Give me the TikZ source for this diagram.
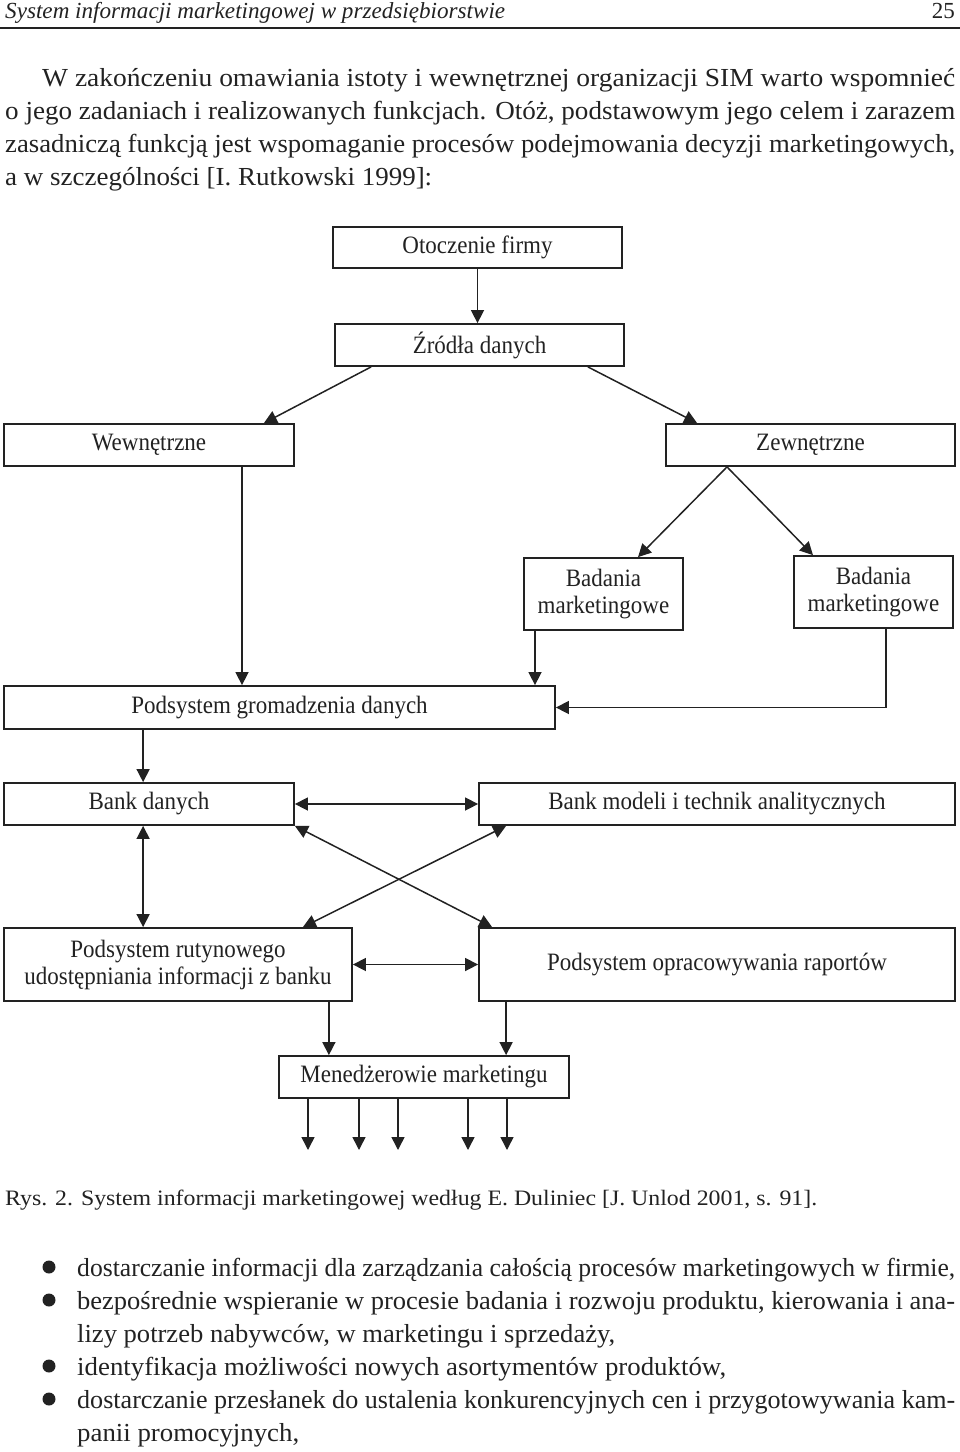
\documentclass[tikz,border=0pt]{standalone}
\usepackage{fontspec}
\usepackage{graphicx}
\setmainfont{Liberation Serif}
\newfontfamily\boxfont[FakeStretch=0.92]{Liberation Serif}
\usetikzlibrary{arrows.meta,calc}
\definecolor{ink}{HTML}{222222}
\newcommand{\fitto}[2]{\resizebox{#1}{\height}{#2}}
\tikzset{
  box/.style={draw=ink, line width=1.8pt, inner sep=0pt, align=center, text=ink,
    font=\boxfont\fontsize{25}{27}\selectfont},
  arr/.style={draw=ink, line width=1.5pt, -{Triangle[length=13pt,width=13pt]}},
  darr/.style={draw=ink, line width=1.5pt, {Triangle[length=13pt,width=13pt]}-{Triangle[length=13pt,width=13pt]}},
  txt/.style={anchor=base west, inner sep=0pt, text=ink},
  bodyfont/.style={font=\fontsize{26}{33}\selectfont},
  dot/.style={circle, fill=ink, inner sep=0pt, minimum size=13pt}
}
\begin{document}
\begin{tikzpicture}[x=1pt,y=-1pt]
\useasboundingbox (0,0) rectangle (960,1452);
% header
\node[txt] (hdr) at (5,18) {\fitto{500pt}{\fontsize{23}{26}\selectfont\itshape System informacji marketingowej w przedsiębiorstwie}};
\node[anchor=base east, inner sep=0pt, text=ink, font=\fontsize{23}{26}\selectfont] (pg) at (955,18) {25};
\draw[ink, line width=2pt] (0,27.5) -- (960,27.5);
% paragraph
\node[txt,bodyfont] (p1) at (42,86) {\fitto{913pt}{W zakończeniu omawiania istoty i wewnętrznej organizacji SIM warto wspomnieć}};
\node[txt,bodyfont] (p2) at (5,119) {\fitto{950pt}{o jego zadaniach i realizowanych funkcjach. Otóż, podstawowym jego celem i zarazem}};
\node[txt,bodyfont] (p3) at (5,152) {\fitto{950pt}{zasadniczą funkcją jest wspomaganie procesów podejmowania decyzji marketingowych,}};
\node[txt,bodyfont] (p4) at (5,185) {\fitto{427pt}{a w szczególności [I. Rutkowski 1999]:}};
% boxes
\node[box, minimum width=289pt, minimum height=41pt] (ot) at (477.5,247.5) {Otoczenie firmy};
\node[box, minimum width=289pt, minimum height=42pt] (zr) at (479.5,345) {Źródła danych};
\node[box, minimum width=290pt, minimum height=42pt] (wew) at (149,445) {Wewnętrzne};
\node[box, minimum width=289pt, minimum height=42pt] (zew) at (810.5,445) {Zewnętrzne};
\node[box, minimum width=159pt, minimum height=72pt] (bad1) at (603.5,594) {Badania\\marketingowe};
\node[box, minimum width=159pt, minimum height=72pt] (bad2) at (873.5,592) {Badania\\marketingowe};
\node[box, minimum width=551pt, minimum height=43pt] (grom) at (279.5,707.5) {Podsystem gromadzenia danych};
\node[box, minimum width=290pt, minimum height=42pt] (bank) at (149,804) {Bank danych};
\node[box, minimum width=476pt, minimum height=42pt] (modeli) at (717,804) {Bank modeli i technik analitycznych};
\node[box, minimum width=348pt, minimum height=73pt] (rut) at (178,964.5) {Podsystem rutynowego\\udostępniania informacji z banku};
\node[box, minimum width=476pt, minimum height=73pt] (rap) at (717,964.5) {Podsystem opracowywania raportów};
\node[box, minimum width=290pt, minimum height=42pt] (men) at (424,1077) {Menedżerowie marketingu};
% connectors
\draw[arr] (ot.south) -- (ot.south |- zr.north);
\coordinate (zr1) at ([xshift=37pt]zr.south west);
\coordinate (zr2) at ([xshift=-37pt]zr.south east);
\coordinate (wew1) at ([xshift=-31pt]wew.north east);
\coordinate (zew1) at ([xshift=32pt]zew.north west);
\draw[arr] (zr1) -- (wew1);
\draw[arr] (zr2) -- (zew1);
\coordinate (zew2) at ([xshift=-83.5pt]zew.south);
\coordinate (bad1n) at ([xshift=34.5pt]bad1.north);
\coordinate (bad2n) at ([xshift=-60.5pt]bad2.north);
\draw[arr] (zew2) -- (bad1n);
\draw[arr] (zew2) -- (bad2n);
\coordinate (w1) at ([xshift=93pt]wew.south);
\draw[arr] (w1) -- (w1 |- grom.north);
\coordinate (b1) at ([xshift=-68.5pt]bad1.south);
\draw[arr] (b1) -- (b1 |- grom.north);
\coordinate (b2) at ([xshift=12.5pt]bad2.south);
\draw[arr] (b2) |- (grom.east);
\coordinate (g1) at ([xshift=140pt]grom.south west);
\draw[arr] (g1) -- (g1 |- bank.north);
\draw[darr] (bank.east) -- (modeli.west);
\coordinate (k1) at ([xshift=140pt]bank.south west);
\draw[darr] (k1) -- (k1 |- rut.north);
\coordinate (rapnw) at ([xshift=14pt]rap.north west);
\draw[darr] (bank.south east) -- (rapnw);
\coordinate (modsw) at ([xshift=28pt]modeli.south west);
\coordinate (rutne) at ([xshift=-50pt]rut.north east);
\draw[darr] (modsw) -- (rutne);
\draw[darr] (rut.east) -- (rap.west);
\coordinate (r1) at ([xshift=-24pt]rut.south east);
\draw[arr] (r1) -- (r1 |- men.north);
\coordinate (r2) at ([xshift=28pt]rap.south west);
\draw[arr] (r2) -- (r2 |- men.north);
\foreach \i/\xx in {1/308,2/359,3/398,4/468,5/507} {
  \coordinate (o\i) at (\xx,1150);
  \draw[arr] (o\i |- men.south) -- (o\i);
}
% caption
\node[txt] (cap) at (5,1205) {\fitto{812pt}{\fontsize{22}{26}\selectfont Rys. 2. System informacji marketingowej według E. Duliniec [J. Unlod 2001, s. 91].}};
% bullets
\node[dot] (d1) at (49,1267) {};
\node[dot] (d2) at (49,1300) {};
\node[dot] (d3) at (49,1366) {};
\node[dot] (d4) at (49,1399) {};
\node[txt,bodyfont] (l1) at (77,1276) {\fitto{878pt}{dostarczanie informacji dla zarządzania całością procesów marketingowych w firmie,}};
\node[txt,bodyfont] (l2) at (77,1309) {\fitto{878pt}{bezpośrednie wspieranie w procesie badania i rozwoju produktu, kierowania i ana-}};
\node[txt,bodyfont] (l3) at (77,1342) {\fitto{538pt}{lizy potrzeb nabywców, w marketingu i sprzedaży,}};
\node[txt,bodyfont] (l4) at (77,1375) {\fitto{649pt}{identyfikacja możliwości nowych asortymentów produktów,}};
\node[txt,bodyfont] (l5) at (77,1408) {\fitto{878pt}{dostarczanie przesłanek do ustalenia konkurencyjnych cen i przygotowywania kam-}};
\node[txt,bodyfont] (l6) at (77,1441) {\fitto{222pt}{panii promocyjnych,}};
\end{tikzpicture}
\end{document}
